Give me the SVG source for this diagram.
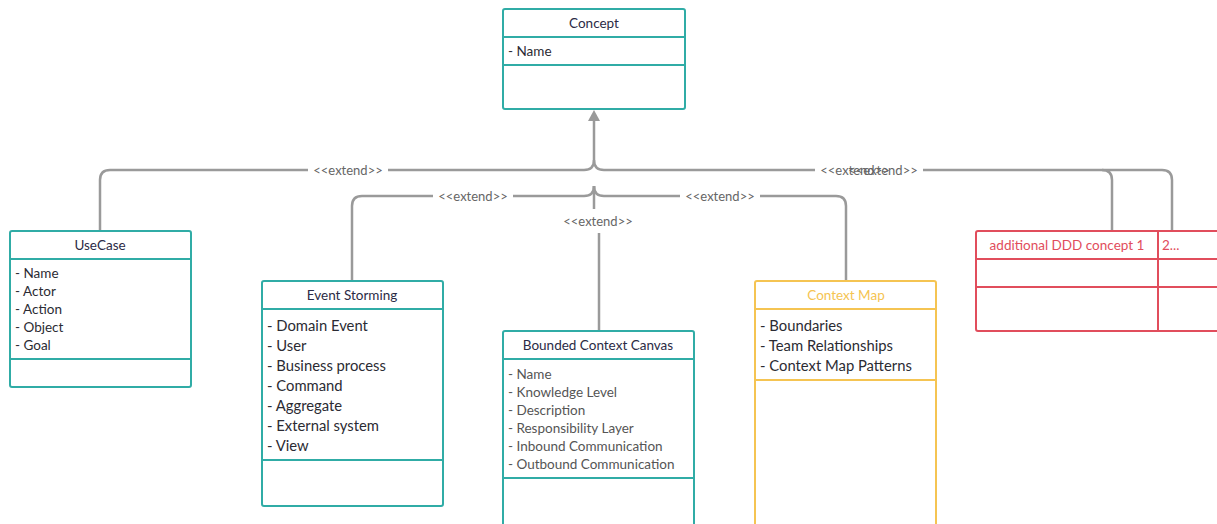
<svg xmlns="http://www.w3.org/2000/svg" width="1217" height="524" viewBox="0 0 1217 524">
  <style>
    .box { fill: #ffffff; stroke-width: 2; }
    .teal { stroke: #30aca6; }
    .gold { stroke: #f5c452; }
    .red { stroke: #e14d5c; }
    .div { stroke-width: 2; fill: none; }
    .title { font-family: Lato, "Liberation Sans", sans-serif; font-size: 13.5px; fill: #2b2b45; text-anchor: middle; }
    .attr { font-family: Lato, "Liberation Sans", sans-serif; font-size: 13.5px; fill: #2b2b33; }
    .attr14 { font-family: Lato, "Liberation Sans", sans-serif; font-size: 14.8px; fill: #2b2b33; }
    .attrg { font-family: Lato, "Liberation Sans", sans-serif; font-size: 13.5px; fill: #555555; }
    .conn { fill: none; stroke: #9a9a9a; stroke-width: 2.5; }
    .lbl { font-family: Lato, "Liberation Sans", sans-serif; font-size: 13px; fill: #666666; text-anchor: middle; }
    .lblbg { fill: #ffffff; }
  </style>

  <!-- connectors: every specialization points to Concept -->
  <g id="connectors">
    <path class="conn" d="M100,231 L100,180 Q100,170 110,170 L584,170 Q594,170 594,160 L594,118"/>
    <path class="conn" d="M1112,231 L1112,180 Q1112,170 1102,170 L604,170 Q594,170 594,160"/>
    <path class="conn" d="M1172,231 L1172,180 Q1172,170 1162,170 L1102,170"/>
    <path class="conn" d="M352,281 L352,206 Q352,196 362,196 L584,196 Q594,196 594,186"/>
    <path class="conn" d="M846,281 L846,206 Q846,196 836,196 L604,196 Q594,196 594,186"/>
    <path class="conn" d="M599,331 L599,221 L594,221 L594,186"/>
    <polygon points="594,110 600,121 588,121" fill="#9a9a9a"/>
    <!-- label backgrounds -->
    <rect class="lblbg" x="308" y="163" width="80" height="14"/>
    <rect class="lblbg" x="433" y="189" width="80" height="14"/>
    <rect class="lblbg" x="557" y="209" width="82" height="24"/>
    <rect class="lblbg" x="680" y="189" width="80" height="14"/>
    <rect class="lblbg" x="815" y="163" width="108" height="14"/>
    <text class="lbl" x="348" y="174.5">&lt;&lt;extend&gt;&gt;</text>
    <text class="lbl" x="473" y="200.5">&lt;&lt;extend&gt;&gt;</text>
    <text class="lbl" x="598" y="225.5">&lt;&lt;extend&gt;&gt;</text>
    <text class="lbl" x="720" y="200.5">&lt;&lt;extend&gt;&gt;</text>
    <text class="lbl" x="855" y="174.5">&lt;&lt;extend&gt;&gt;</text>
    <text class="lbl" x="883" y="174.5">&lt;&lt;extend&gt;&gt;</text>
  </g>

  <g id="concept">
    <rect class="box teal" x="503" y="9" width="182" height="100" rx="2"/>
    <line class="div teal" x1="503" y1="37" x2="685" y2="37"/>
    <line class="div teal" x1="503" y1="65" x2="685" y2="65"/>
    <text class="title" x="594" y="28">Concept</text>
    <text class="attr" x="508" y="56">- Name</text>
  </g>

  <g id="usecase">
    <rect class="box teal" x="10" y="231" width="181" height="156" rx="2"/>
    <line class="div teal" x1="10" y1="259" x2="191" y2="259"/>
    <line class="div teal" x1="10" y1="359" x2="191" y2="359"/>
    <text class="title" x="100" y="250">UseCase</text>
    <text class="attr" x="15" y="278">- Name</text>
    <text class="attr" x="15" y="296">- Actor</text>
    <text class="attr" x="15" y="314">- Action</text>
    <text class="attr" x="15" y="332">- Object</text>
    <text class="attr" x="15" y="350">- Goal</text>
  </g>

  <g id="event-storming">
    <rect class="box teal" x="262" y="281" width="181" height="225" rx="2"/>
    <line class="div teal" x1="262" y1="309" x2="443" y2="309"/>
    <line class="div teal" x1="262" y1="460" x2="443" y2="460"/>
    <text class="title" x="352" y="300">Event Storming</text>
    <text class="attr14" x="267" y="331">- Domain Event</text>
    <text class="attr14" x="267" y="351">- User</text>
    <text class="attr14" x="267" y="371">- Business process</text>
    <text class="attr14" x="267" y="391">- Command</text>
    <text class="attr14" x="267" y="411">- Aggregate</text>
    <text class="attr14" x="267" y="431">- External system</text>
    <text class="attr14" x="267" y="451">- View</text>
  </g>

  <g id="bounded-context-canvas">
    <rect class="box teal" x="503" y="331" width="191" height="200" rx="2"/>
    <line class="div teal" x1="503" y1="359" x2="694" y2="359"/>
    <line class="div teal" x1="503" y1="478" x2="694" y2="478"/>
    <text class="title" x="598" y="350">Bounded Context Canvas</text>
    <text class="attrg" x="508" y="379">- Name</text>
    <text class="attrg" x="508" y="397">- Knowledge Level</text>
    <text class="attrg" x="508" y="415">- Description</text>
    <text class="attrg" x="508" y="433">- Responsibility Layer</text>
    <text class="attrg" x="508" y="451">- Inbound Communication</text>
    <text class="attrg" x="508" y="469">- Outbound Communication</text>
  </g>

  <g id="context-map">
    <rect class="box gold" x="755" y="281" width="181" height="250" rx="2"/>
    <line class="div gold" x1="755" y1="309" x2="936" y2="309"/>
    <line class="div gold" x1="755" y1="380" x2="936" y2="380"/>
    <text class="title" x="846" y="300" style="fill:#f5c452">Context Map</text>
    <text class="attr14" x="760" y="331">- Boundaries</text>
    <text class="attr14" x="760" y="351">- Team  Relationships</text>
    <text class="attr14" x="760" y="371">- Context Map Patterns</text>
  </g>

  <g id="additional-concepts">
    <rect class="box red" x="976" y="231" width="250" height="100" rx="2"/>
    <line class="div red" x1="976" y1="259" x2="1217" y2="259"/>
    <line class="div red" x1="976" y1="287" x2="1217" y2="287"/>
    <line class="div red" x1="1158" y1="231" x2="1158" y2="331"/>
    <text class="title" x="1067" y="250" style="fill:#e14d5c">additional DDD concept 1</text>
    <text class="title" x="1162" y="250" style="fill:#e14d5c;text-anchor:start">2...</text>
  </g>
</svg>
